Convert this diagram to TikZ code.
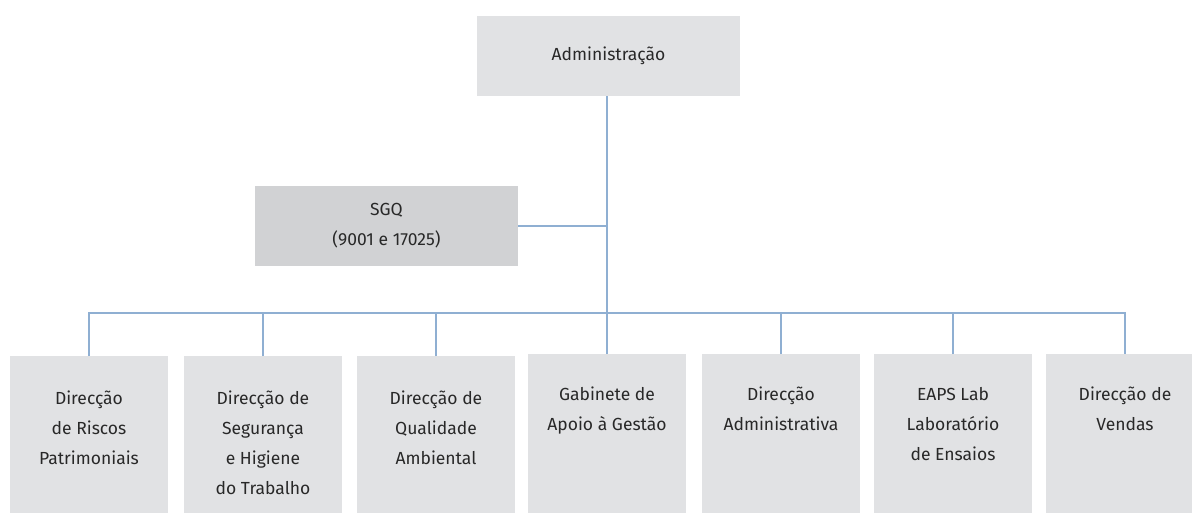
\documentclass[tikz,border=0pt]{standalone}
\usepackage{fontspec}
\setmainfont{Fira Sans}
\definecolor{boxfill}{RGB}{225,226,228}
\definecolor{sgqfill}{RGB}{209,210,212}
\definecolor{linec}{RGB}{143,175,210}
\definecolor{txt}{RGB}{40,40,40}
\begin{document}
\begin{tikzpicture}[x=1pt,y=-1pt,
  box/.style={rectangle, fill=boxfill, draw=none, inner sep=0pt},
  lab/.style={align=center, inner sep=0pt, text=txt, font=\fontsize{17.5}{30}\selectfont},
  conn/.style={draw=linec, line width=2.6pt}]
\useasboundingbox (0,0) rectangle (1192,513);
% top
\node[box, minimum width=263pt, minimum height=80pt] (adm) at (608.5,56) {};
\node[lab] (admt) at (adm.center) {Administração};
% SGQ
\node[box, fill=sgqfill, minimum width=263pt, minimum height=80pt] (sgq) at (386.5,226) {};
\node[lab] (sgqt) at (sgq.center) {SGQ\\(9001 e 17025)};
% bottom boxes
\foreach \n/\x/\y in {1/89/356,2/263/356,3/436/356,4/607/354,5/781/354,6/953/354,7/1125/354}{
  \node[box, anchor=north, minimum width=158pt, minimum height=513pt-\y pt] (b\n) at (\x,\y) {};
}
\node[lab, anchor=north] (t1) at ([yshift=-35pt]b1.north) {Direcção\\de Riscos\\Patrimoniais};
\node[lab, anchor=north] (t2) at ([yshift=-35pt]b2.north) {Direcção de\\Segurança\\e Higiene\\do Trabalho};
\node[lab, anchor=north] (t3) at ([yshift=-35pt]b3.north) {Direcção de\\Qualidade\\Ambiental};
\node[lab, anchor=north] (t4) at ([yshift=-33pt]b4.north) {Gabinete de\\Apoio à Gestão};
\node[lab, anchor=north] (t5) at ([yshift=-33pt]b5.north) {Direcção\\Administrativa};
\node[lab, anchor=north] (t6) at ([yshift=-33pt]b6.north) {EAPS Lab\\Laboratório\\de Ensaios};
\node[lab, anchor=north] (t7) at ([yshift=-33pt]b7.north) {Direcção de\\Vendas};
% connectors
\coordinate (bus) at (0,313);
\draw[conn] (b4.north |- adm.south) -- (b4.north);
\draw[conn] (sgq.east) -- (sgq.east -| b4.north);
\draw[conn] (b1.north) -- (b1.north |- bus) -- (b7.north |- bus) -- (b7.north);
\foreach \n in {2,3,5,6}{
  \draw[conn] (b\n.north) -- (b\n.north |- bus);
}
\end{tikzpicture}
\end{document}
